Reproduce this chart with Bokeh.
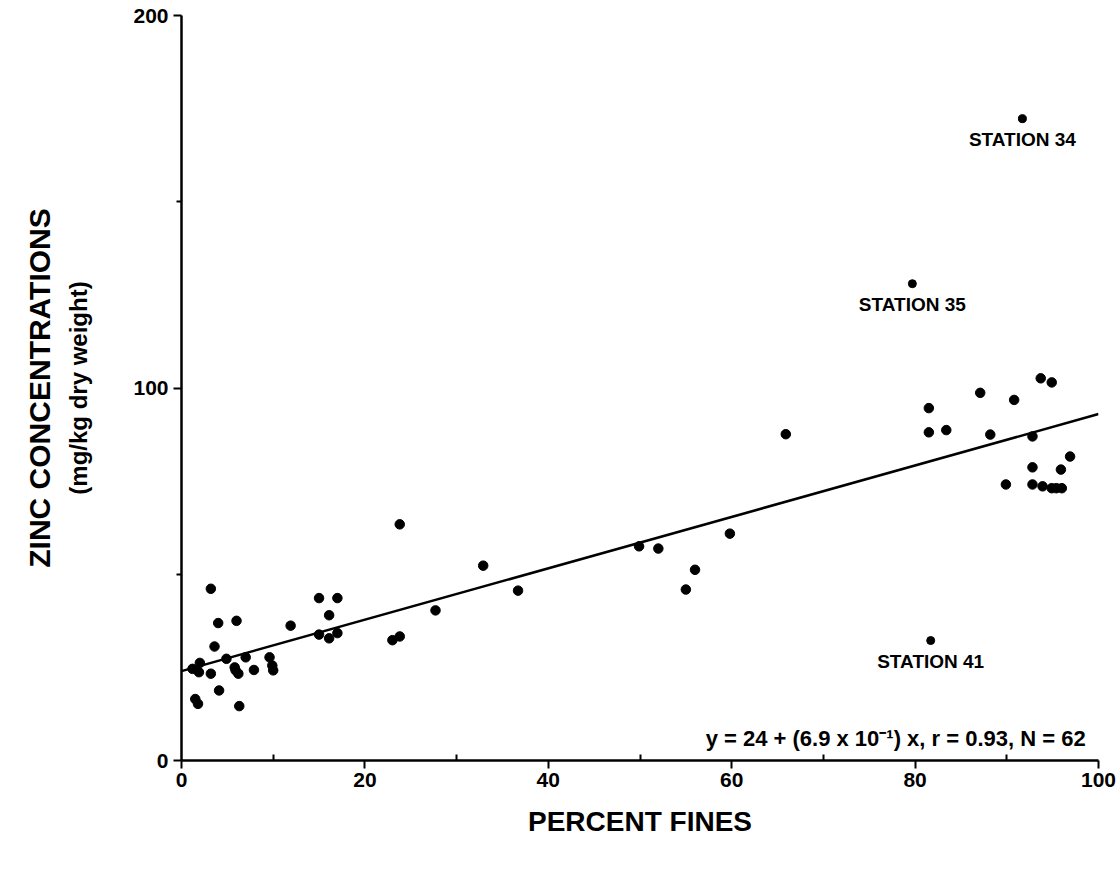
from bokeh.plotting import figure
from bokeh.models import FixedTicker, Range1d, Label, LinearAxis, ColumnDataSource
from bokeh.core.properties import value
from bokeh.embed import file_html
from bokeh.resources import INLINE

# ---- data ----
pct_fines = [3.2, 4.0, 6.0, 11.9, 3.6, 4.9, 7.0, 9.6, 1.2, 2.0, 1.9, 3.2, 5.8, 6.2, 5.9,
             7.9, 9.9, 10.0, 4.1, 1.5, 1.8, 6.3,
             23.8, 15.0, 17.0, 16.1, 15.0, 16.1, 17.0, 23.0, 23.8, 27.7,
             32.9, 36.7, 49.9, 52.0, 59.8, 56.0, 55.0, 65.9,
             93.7, 94.9, 87.1, 90.8, 81.5, 81.5, 83.4, 88.2, 92.8, 96.9, 92.8, 95.9,
             89.9, 92.8, 93.9, 94.9, 95.4, 96.0]
zinc = [46.1, 36.9, 37.5, 36.2, 30.6, 27.3, 27.7, 27.7, 24.6, 26.2, 23.7, 23.3, 25.0, 23.3, 24.2,
        24.3, 25.5, 24.2, 18.8, 16.5, 15.2, 14.6,
        63.4, 43.6, 43.6, 39.0, 33.8, 32.8, 34.2, 32.3, 33.3, 40.3,
        52.3, 45.6, 57.5, 56.9, 60.9, 51.2, 45.9, 87.6,
        102.6, 101.5, 98.7, 96.8, 94.6, 88.1, 88.7, 87.5, 87.0, 81.6, 78.7, 78.1,
        74.1, 74.1, 73.6, 73.1, 73.1, 73.1]

station_names = ["STATION 34", "STATION 35", "STATION 41"]
station_x = [91.7, 79.7, 81.7]
station_y = [172.3, 128.0, 32.2]

intercept = 24.0
slope = 0.69
equation_text = "y = 24 + (6.9 x 10\u207b\u00b9) x, r = 0.93, N = 62"

x_ticks = [0, 20, 40, 60, 80, 100]
x_minor = [10, 30, 50, 70, 90]
y_ticks = [0, 100, 200]
y_minor = [50, 150]

FONT = "Liberation Sans"

p = figure(width=1118, height=871, output_backend="svg", toolbar_location=None,
           x_range=Range1d(0, 100), y_range=Range1d(0, 200),
           min_border_left=181, min_border_right=20, min_border_top=15, min_border_bottom=111)
p.outline_line_color = None
p.grid.visible = False
p.background_fill_color = "white"
p.border_fill_color = "white"

# x axis
xa = p.xaxis[0]
xa.ticker = FixedTicker(ticks=x_ticks, minor_ticks=x_minor)
xa.axis_line_width = 2.5
xa.major_tick_line_width = 2
xa.minor_tick_line_width = 2
xa.major_tick_out = 8
xa.major_tick_in = 0
xa.minor_tick_in = 6
xa.minor_tick_out = 0
xa.major_label_text_font = FONT
xa.major_label_text_font_style = "bold"
xa.major_label_text_font_size = "21px"
xa.major_label_text_color = "black"
xa.major_label_standoff = 4
xa.axis_label = "PERCENT FINES"
xa.axis_label_text_font = FONT
xa.axis_label_text_font_style = "bold"
xa.axis_label_text_font_size = "28px"
xa.axis_label_text_color = "black"
xa.axis_label_standoff = 16

# y axis (inner, carries second label line)
ya = p.yaxis[0]
ya.ticker = FixedTicker(ticks=y_ticks, minor_ticks=y_minor)
ya.axis_line_width = 2.5
ya.major_tick_line_width = 2
ya.minor_tick_line_width = 2
ya.major_tick_out = 8
ya.major_tick_in = 0
ya.minor_tick_in = 0
ya.minor_tick_out = 5
ya.major_label_text_font = FONT
ya.major_label_text_font_style = "bold"
ya.major_label_text_font_size = "21px"
ya.major_label_text_color = "black"
ya.major_label_standoff = 5
ya.axis_label = "(mg/kg dry weight)"
ya.axis_label_text_font = FONT
ya.axis_label_text_font_style = "bold"
ya.axis_label_text_font_size = "24px"
ya.axis_label_text_color = "black"
ya.axis_label_standoff = 38

# outer label-only axis for the first label line
ya2 = LinearAxis(ticker=FixedTicker(ticks=[]), axis_line_color=None,
                 major_tick_out=0, major_tick_in=0, minor_tick_out=0, minor_tick_in=0,
                 major_label_standoff=0, axis_label="ZINC CONCENTRATIONS",
                 axis_label_text_font=FONT, axis_label_text_font_style="bold",
                 axis_label_text_font_size="30px", axis_label_text_color="black",
                 axis_label_standoff=7)
p.add_layout(ya2, "left")

# regression line
line_x = [p.x_range.start, p.x_range.end]
line_y = [intercept + slope * v for v in line_x]
p.line(line_x, line_y, line_color="black", line_width=2.5)

# points
src = ColumnDataSource(dict(x=pct_fines, y=zinc))
p.scatter("x", "y", source=src, marker="circle", size=9.5, fill_color="black", line_color="black")

st = ColumnDataSource(dict(x=station_x, y=station_y, name=station_names))
p.scatter("x", "y", source=st, marker="circle", size=8, fill_color="black", line_color="black")
p.text("x", "y", text="name", source=st, text_align="center", text_baseline="top",
       y_offset=10, text_font=value(FONT), text_font_style="bold", text_font_size="19px",
       text_color="black")

p.add_layout(Label(x=98.6, y=6.0, text=equation_text, text_align="right",
                   text_baseline="middle", text_font=FONT, text_font_style="bold",
                   text_font_size="22px", text_color="black"))

open("out.html", "w").write(file_html(p, INLINE))
